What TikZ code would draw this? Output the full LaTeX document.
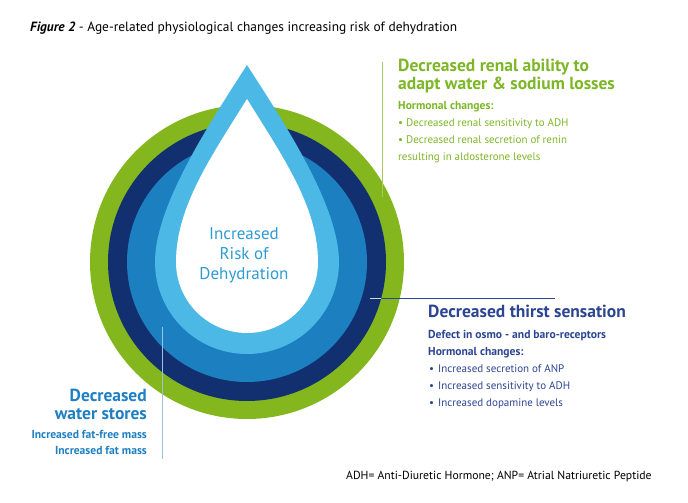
\documentclass[tikz,border=0pt]{standalone}
\usepackage{fontspec}
\setmainfont{PT Sans}
\usetikzlibrary{positioning,calc}

\definecolor{ringgreen}{HTML}{84B71E}
\definecolor{ringnavy}{HTML}{12306F}
\definecolor{ringblue}{HTML}{1B7FC0}
\definecolor{droplight}{HTML}{4BB8E5}
\definecolor{txtgreen}{HTML}{7DB626}
\definecolor{txtnavy}{HTML}{2C4592}
\definecolor{txtblue}{HTML}{1E80C1}
\definecolor{txtdrop}{HTML}{2D9CD3}
\definecolor{leadgreen}{HTML}{A6CD5C}
\definecolor{leadblue}{HTML}{9CC3DE}

\tikzstyle{head} = [anchor=base west, inner sep=0pt, font=\bfseries\fontsize{17.5}{18}\selectfont]
\tikzstyle{body} = [anchor=base west, inner sep=0pt, font=\fontsize{11}{12}\selectfont]
\tikzstyle{bodybf} = [anchor=base west, inner sep=0pt, font=\bfseries\fontsize{11.6}{12}\selectfont]
\tikzstyle{centre} = [anchor=base, inner sep=0pt, font=\fontsize{17}{18}\selectfont, text=txtdrop]

\begin{document}
\begin{tikzpicture}[x=1pt,y=1pt]
\useasboundingbox (0,0) rectangle (688,503);

% Rings and drop
\coordinate (c) at (247,241);
\fill[ringgreen] (c) circle[radius=157pt];
\fill[ringnavy] (c) circle[radius=139pt];
\fill[ringblue] (c) circle[radius=120pt];
\fill[droplight] ($(c)+(0,197)$) .. controls ($(c)+(-40,135)$) and ($(c)+(-92,55)$) .. ($(c)+(-92,0)$)
  arc[start angle=180, end angle=360, radius=92pt]
  .. controls ($(c)+(92,55)$) and ($(c)+(40,135)$) .. cycle;
\fill[white] ($(c)+(0,163)$) .. controls ($(c)+(-36,105)$) and ($(c)+(-71,55)$) .. ($(c)+(-71,0)$)
  arc[start angle=180, end angle=360, radius=71pt]
  .. controls ($(c)+(71,55)$) and ($(c)+(36,105)$) .. cycle;

% Leader lines
\coordinate (gTop) at (382,441);
\coordinate (gBot) at (382,306);
\coordinate (nStart) at (370,205);
\coordinate (nEnd) at (555,205);
\coordinate (bTop) at (162,176);
\coordinate (bBot) at (162,44);
\draw[leadgreen, line width=0.9pt] (gTop) -- (gBot);
\draw[txtnavy, line width=0.9pt] (nStart) -- (nEnd);
\begin{scope}
  \clip (c) circle[radius=139pt];
  \draw[white!80!ringnavy, line width=0.9pt] (nStart) -- (nEnd);
\end{scope}
\draw[leadblue, line width=0.9pt] (bTop) -- (bBot);

% Title
\node (title) [anchor=base west, inner sep=0pt, font=\fontsize{13.4}{14}\selectfont] at (30,471)
  {\textbf{\textit{Figure 2}} - Age-related physiological changes increasing risk of dehydration};

% Centre text
\node (riskA) [centre] at (244,263) {Increased};
\node (riskB) [below=20pt of riskA.base, centre] {Risk of};
\node (riskC) [below=20pt of riskB.base, centre] {Dehydration};

% Renal block
\node (renalA) [head, text=txtgreen] at (398,431) {Decreased renal ability to};
\node (renalB) [below=18pt of renalA.base west, head, text=txtgreen] {adapt water \& sodium losses};
\node (renalC) [below=20pt of renalB.base west, bodybf, text=txtgreen] {Hormonal changes:};
\node (renalD) [below=17pt of renalC.base west, body, text=txtgreen] {•\hspace{3pt}Decreased renal sensitivity to ADH};
\node (renalE) [below=17pt of renalD.base west, body, text=txtgreen] {•\hspace{3pt}Decreased renal secretion of renin};
\node (renalF) [below=17pt of renalE.base west, body, text=txtgreen] {resulting in aldosterone levels};

% Thirst block
\node (thirstA) [head, text=txtnavy] at (428,185) {Decreased thirst sensation};
\node (thirstB) [below=21pt of thirstA.base west, bodybf, text=txtnavy] {Defect in osmo - and baro-receptors};
\node (thirstC) [below=17pt of thirstB.base west, bodybf, text=txtnavy] {Hormonal changes:};
\node (thirstD) [below=17pt of thirstC.base west, body, text=txtnavy] {\hspace{1pt}•\hspace{4pt}Increased secretion of ANP};
\node (thirstE) [below=17pt of thirstD.base west, body, text=txtnavy] {\hspace{1pt}•\hspace{4pt}Increased sensitivity to ADH};
\node (thirstF) [below=17pt of thirstE.base west, body, text=txtnavy] {\hspace{1pt}•\hspace{4pt}Increased dopamine levels};

% Water block
\node (waterA) [head, anchor=base east, text=txtblue] at (147,101) {Decreased};
\node (waterB) [below=18pt of waterA.base east, head, anchor=base east, text=txtblue] {water stores};
\node (waterC) [below=19pt of waterB.base east, bodybf, anchor=base east, text=txtblue] {Increased fat-free mass};
\node (waterD) [below=16pt of waterC.base east, bodybf, anchor=base east, text=txtblue] {Increased fat mass};

% Footnote
\node (note) [anchor=base west, inner sep=0pt, font=\fontsize{11.7}{12}\selectfont] at (346,23)
  {ADH= Anti-Diuretic Hormone; ANP= Atrial Natriuretic Peptide};

\end{tikzpicture}
\end{document}
